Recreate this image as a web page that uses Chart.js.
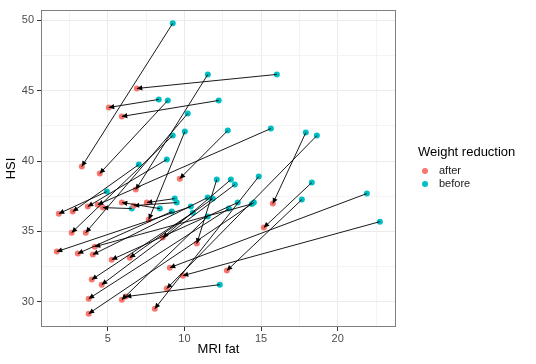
<!DOCTYPE html>
<html>
<head>
<meta charset="utf-8">
<script src="https://cdn.jsdelivr.net/npm/chart.js@4.4.1/dist/chart.umd.min.js"></script>
<style>
  html, body { margin: 0; padding: 0; background: #fff; }
</style>
</head>
<body>
<canvas id="hsiChart" width="536" height="364"></canvas>
<script>
const groups = ['after', 'before'];
const groupColors = ['#F8766D', '#00BFC4'];

// each patient: before -> after weight reduction
const beforeFat = [9.24, 11.53, 16.03, 8.33, 8.92, 12.24, 10.22, 9.24, 10.03, 12.83,
  15.64, 17.92, 18.64, 8.85, 7.03, 12.11, 13.03, 13.29, 14.85, 18.31,
  17.66, 21.90, 13.48, 14.53, 12.90, 9.37, 9.50, 11.85, 11.52, 8.40,
  9.18, 10.42, 10.55, 11.52, 12.31, 22.75, 4.94, 6.57, 14.40];
const beforeHsi = [49.79, 46.16, 46.16, 44.38, 44.31, 44.31, 43.38, 41.81, 42.10, 42.17,
  42.31, 42.03, 41.81, 40.11, 39.75, 38.68, 38.68, 38.33, 38.90, 38.47,
  37.26, 37.69, 37.05, 37.05, 36.62, 37.33, 37.05, 37.33, 37.40, 36.62,
  36.41, 36.76, 36.33, 36.05, 31.21, 35.69, 37.83, 36.62, 36.95];
const afterFat = [3.31, 6.83, 6.90, 5.07, 4.48, 5.92, 3.57, 2.65, 7.68, 9.70,
  4.35, 15.77, 8.85, 3.70, 2.72, 10.81, 8.59, 4.61, 8.07, 15.18,
  12.77, 9.05, 5.26, 3.76, 3.76, 7.55, 6.70, 6.44, 4.03, 5.92,
  3.05, 1.68, 3.96, 5.92, 6.18, 9.90, 1.81, 4.68, 4.16];
const afterHsi = [39.61, 37.97, 45.16, 43.81, 39.11, 43.17, 34.91, 34.91, 35.84, 38.75,
  36.90, 36.98, 30.93, 36.76, 36.41, 34.13, 34.56, 31.21, 29.50, 35.27,
  32.21, 32.42, 32.99, 29.15, 30.21, 37.05, 36.83, 33.13, 33.35, 37.05,
  33.42, 33.56, 31.57, 30.14, 30.36, 31.85, 36.26, 36.69, 33.91];

const xTicks = [5, 10, 15, 20];
const yTicks = [30, 35, 40, 45, 50];

const isMajor = (v, list) => list.some(t => Math.abs(t - v) < 1e-6);

// segments with arrow heads, drawn from the scales
const arrowPlugin = {
  id: 'arrows',
  afterDatasetsDraw(chart) {
    const { ctx, scales: { x, y } } = chart;
    ctx.save();
    ctx.strokeStyle = '#000';
    ctx.fillStyle = '#000';
    ctx.lineWidth = 0.9;
    for (let i = 0; i < beforeFat.length; i++) {
      const x0 = x.getPixelForValue(beforeFat[i]);
      const y0 = y.getPixelForValue(beforeHsi[i]);
      const x1 = x.getPixelForValue(afterFat[i]);
      const y1 = y.getPixelForValue(afterHsi[i]);
      ctx.beginPath();
      ctx.moveTo(x0, y0);
      ctx.lineTo(x1, y1);
      ctx.stroke();
      const a = Math.atan2(y1 - y0, x1 - x0);
      const len = 6, w = 0.45;
      ctx.beginPath();
      ctx.moveTo(x1, y1);
      ctx.lineTo(x1 - len * Math.cos(a - w), y1 - len * Math.sin(a - w));
      ctx.lineTo(x1 - len * Math.cos(a + w), y1 - len * Math.sin(a + w));
      ctx.closePath();
      ctx.fill();
    }
    ctx.restore();
  }
};

// panel border and ggplot-like legend
const panelPlugin = {
  id: 'panel',
  afterDraw(chart) {
    const { ctx, chartArea: a } = chart;
    ctx.save();
    ctx.strokeStyle = '#7f7f7f';
    ctx.lineWidth = 1;
    ctx.strokeRect(a.left + 0.5, a.top + 0.5, a.right - a.left - 1, a.bottom - a.top - 1);

    ctx.fillStyle = '#000';
    ctx.textBaseline = 'middle';
    ctx.font = '13px "Liberation Sans", Arial, sans-serif';
    ctx.fillText('Weight reduction', 418, 152);
    ctx.font = '11px "Liberation Sans", Arial, sans-serif';
    groups.forEach((g, i) => {
      const yy = 171 + i * 13;
      ctx.fillStyle = groupColors[i];
      ctx.beginPath();
      ctx.arc(425, yy, 3, 0, Math.PI * 2);
      ctx.fill();
      ctx.fillStyle = '#1a1a1a';
      ctx.fillText(g, 439, yy);
    });
    ctx.restore();
  }
};

const ctx = document.getElementById('hsiChart').getContext('2d');

const hsiChart = new Chart(ctx, {
  type: 'scatter',
  data: {
    datasets: [
      {
        label: groups[0],
        data: afterFat.map((v, i) => ({ x: v, y: afterHsi[i] })),
        backgroundColor: groupColors[0],
        borderColor: groupColors[0],
        pointRadius: 3,
        borderWidth: 0
      },
      {
        label: groups[1],
        data: beforeFat.map((v, i) => ({ x: v, y: beforeHsi[i] })),
        backgroundColor: groupColors[1],
        borderColor: groupColors[1],
        pointRadius: 3,
        borderWidth: 0
      }
    ]
  },
  options: {
    responsive: false,
    animation: false,
    layout: { padding: { top: 10, right: 140, left: 0, bottom: 0 } },
    plugins: {
      legend: { display: false },
      tooltip: { enabled: false }
    },
    scales: {
      x: {
        type: 'linear',
        min: 0.65,
        max: 23.8,
        afterFit: s => { s.height = 37; },
        ticks: {
          stepSize: 2.5,
          includeBounds: false,
          autoSkip: false,
          maxRotation: 0,
          padding: 1,
          color: '#4d4d4d',
          font: { family: '"Liberation Sans", Arial, sans-serif', size: 11 },
          callback: v => isMajor(v, xTicks) ? String(v) : ''
        },
        grid: {
          color: c => isMajor(c.tick.value, xTicks) ? '#ebebeb' : '#f4f4f4',
          tickColor: c => isMajor(c.tick.value, xTicks) ? '#333' : 'rgba(0,0,0,0)',
          tickLength: 4,
          lineWidth: 1
        },
        border: { display: false },
        title: {
          display: true,
          text: 'MRI fat',
          color: '#000',
          font: { family: '"Liberation Sans", Arial, sans-serif', size: 13 },
          padding: { top: 0, bottom: 7 }
        }
      },
      y: {
        type: 'linear',
        min: 28.2,
        max: 50.74,
        afterFit: s => { s.width = 41; },
        ticks: {
          stepSize: 2.5,
          includeBounds: false,
          autoSkip: false,
          padding: 3,
          color: '#4d4d4d',
          font: { family: '"Liberation Sans", Arial, sans-serif', size: 11 },
          callback: v => isMajor(v, yTicks) ? String(v) : ''
        },
        grid: {
          color: c => isMajor(c.tick.value, yTicks) ? '#ebebeb' : '#f4f4f4',
          tickColor: c => isMajor(c.tick.value, yTicks) ? '#333' : 'rgba(0,0,0,0)',
          tickLength: 4,
          lineWidth: 1
        },
        border: { display: false },
        title: {
          display: true,
          text: 'HSI',
          color: '#000',
          font: { family: '"Liberation Sans", Arial, sans-serif', size: 13 },
          padding: { top: 4, bottom: 0 }
        }
      }
    }
  },
  plugins: [arrowPlugin, panelPlugin]
});
</script>
</body>
</html>
